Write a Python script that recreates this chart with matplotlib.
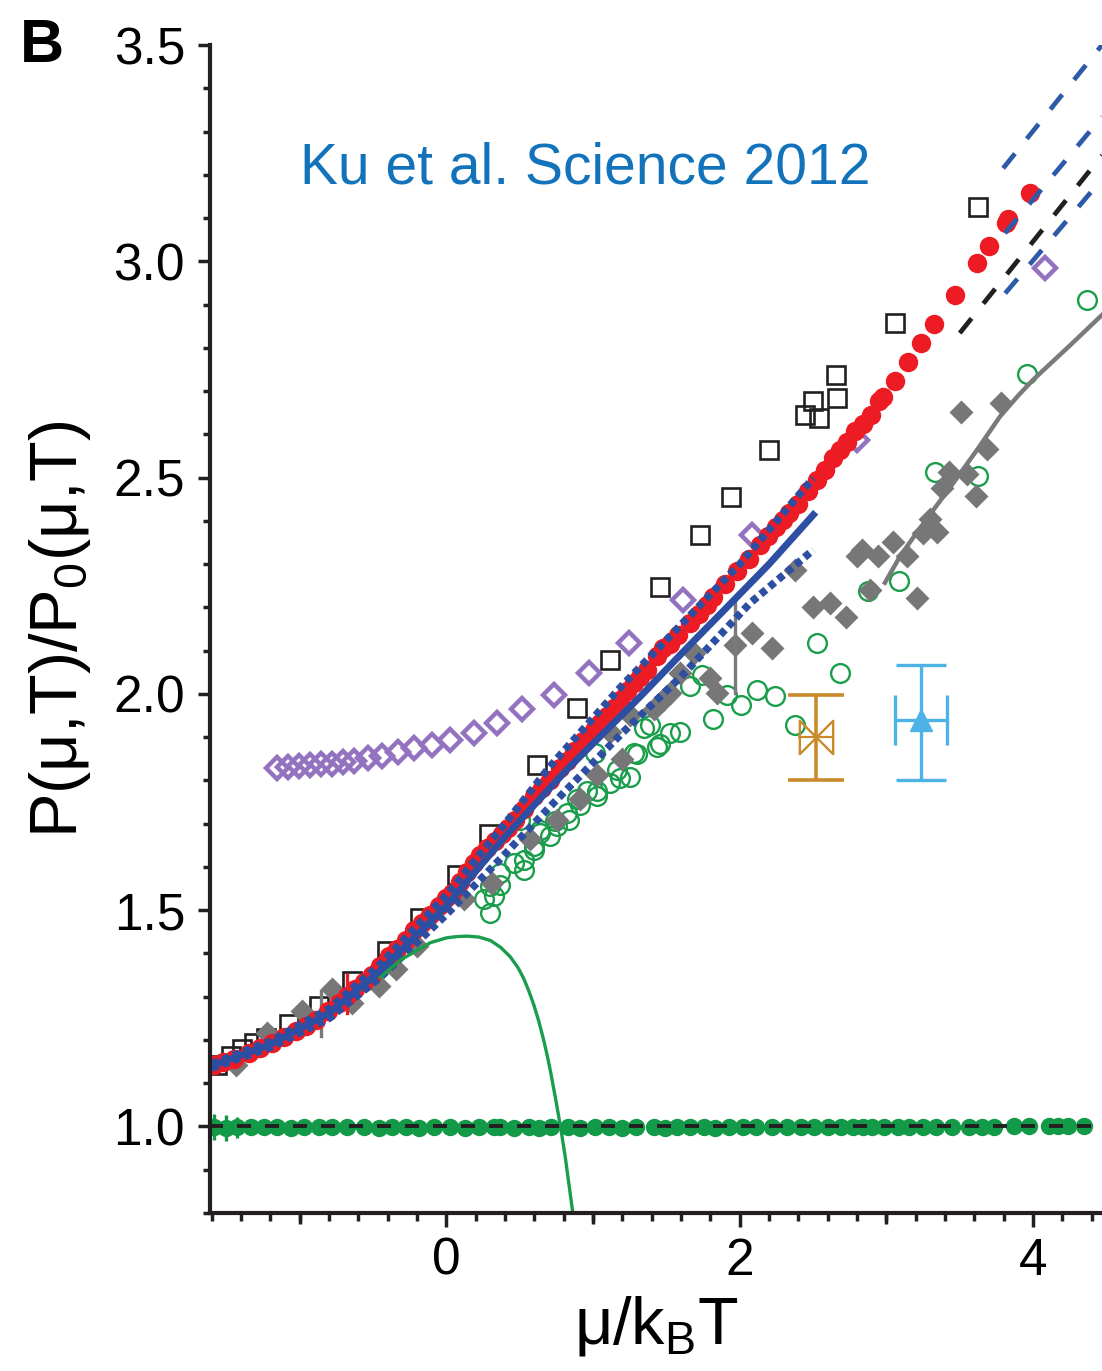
import numpy as np
import matplotlib
matplotlib.use("Agg")
import matplotlib.pyplot as plt
from matplotlib.path import Path
from matplotlib.ticker import MultipleLocator, FixedLocator

plt.rcParams['font.family'] = ['Liberation Sans', 'DejaVu Sans']
plt.rcParams['mathtext.fontset'] = 'custom'
plt.rcParams['mathtext.rm'] = 'Liberation Sans'
plt.rcParams['mathtext.it'] = 'Liberation Sans:italic'

# --- measured pressure (red filled circles) ---
red_x = [-1.587, -1.52, -1.449, -1.347, -1.27, -1.187, -1.11, -1.029, -0.96, -0.892,
         -0.81, -0.733, -0.68, -0.62, -0.56, -0.506, -0.45, -0.393, -0.34, -0.279,
         -0.222, -0.166, -0.11, -0.052, 0.0, 0.039, 0.095, 0.14, 0.186, 0.23,
         0.277, 0.33, 0.379, 0.42, 0.47, 0.53, 0.595, 0.65, 0.708, 0.777,
         0.82, 0.867, 0.93, 1.003, 1.05, 1.094, 1.14, 1.185, 1.23, 1.276,
         1.32, 1.367, 1.435, 1.48, 1.526, 1.58, 1.662, 1.72, 1.776, 1.821,
         1.901, 1.98, 2.06, 2.139, 2.19, 2.248, 2.295, 2.339, 2.40, 2.468,
         2.525, 2.582, 2.638, 2.684, 2.729, 2.786, 2.838, 2.893, 2.95, 2.974,
         3.059, 3.149, 3.238, 3.324, 3.465, 3.617, 3.70, 3.815, 3.83, 3.98]
red_y = [1.141, 1.148, 1.155, 1.170, 1.181, 1.193, 1.206, 1.220, 1.233, 1.247,
         1.266, 1.286, 1.301, 1.317, 1.334, 1.351, 1.372, 1.393, 1.411, 1.432,
         1.455, 1.471, 1.490, 1.509, 1.528, 1.540, 1.565, 1.588, 1.609, 1.627,
         1.644, 1.660, 1.675, 1.690, 1.709, 1.735, 1.763, 1.783, 1.802, 1.829,
         1.845, 1.867, 1.890, 1.917, 1.933, 1.948, 1.968, 1.987, 2.006, 2.025,
         2.040, 2.056, 2.088, 2.105, 2.116, 2.135, 2.165, 2.185, 2.205, 2.225,
         2.255, 2.283, 2.312, 2.345, 2.365, 2.385, 2.402, 2.418, 2.440, 2.468,
         2.494, 2.518, 2.545, 2.564, 2.583, 2.607, 2.624, 2.645, 2.676, 2.687,
         2.724, 2.768, 2.812, 2.856, 2.923, 2.995, 3.036, 3.089, 3.097, 3.159]

# --- open squares ---
sq_x = [-1.562, -1.471, -1.392, -1.313, -1.233, -1.074, -0.87, -0.643, -0.404, -0.177,
        0.073, 0.288, 0.618, 0.89, 1.112, 1.458, 1.73, 1.94, 2.202, 2.446,
        2.502, 2.537, 2.661, 2.657, 3.056, 3.626]
sq_y = [1.143, 1.162, 1.178, 1.193, 1.205, 1.236, 1.278, 1.336, 1.405, 1.482,
        1.582, 1.675, 1.836, 1.967, 2.079, 2.248, 2.368, 2.456, 2.564, 2.645,
        2.676, 2.637, 2.684, 2.738, 2.857, 3.126]

# --- open purple diamonds ---
pd_x = [-1.158, -1.083, -1.008, -0.933, -0.858, -0.783, -0.708, -0.627, -0.538, -0.436,
        -0.327, -0.218, -0.095, 0.027, 0.186, 0.345, 0.516, 0.731, 0.97, 1.242,
        1.614, 2.084, 2.80, 4.08]
pd_y = [1.829, 1.831, 1.833, 1.835, 1.837, 1.839, 1.842, 1.846, 1.851, 1.856,
        1.865, 1.874, 1.883, 1.894, 1.910, 1.933, 1.964, 1.998, 2.048, 2.118,
        2.217, 2.368, 2.587, 2.985]

# --- grey filled diamonds ---
gd_x = [-1.437, -1.221, -0.983, -0.779, -0.643, -0.461, -0.347, -0.2, 0.118, 0.311,
        0.572, 0.754, 0.913, 1.027, 1.117, 1.196, 1.253, 1.412, 1.48, 1.526,
        1.594, 1.685, 1.794, 1.844, 1.969, 2.083, 2.219, 2.377, 2.502, 2.616,
        2.725, 2.798, 2.834, 2.888, 2.945, 3.047, 3.138, 3.206, 3.251, 3.297,
        3.342, 3.377, 3.429, 3.508, 3.551, 3.61, 3.683, 3.779]
gd_y = [1.143, 1.216, 1.266, 1.317, 1.286, 1.324, 1.363, 1.417, 1.525, 1.563,
        1.665, 1.709, 1.756, 1.812, 1.913, 1.850, 1.952, 1.964, 1.985, 2.002,
        2.048, 2.094, 2.037, 2.002, 2.114, 2.141, 2.106, 2.287, 2.202, 2.210,
        2.177, 2.318, 2.333, 2.240, 2.318, 2.351, 2.318, 2.222, 2.372, 2.405,
        2.375, 2.476, 2.512, 2.651, 2.508, 2.457, 2.567, 2.672]

# --- open green circles ---
gc_x = [0.30, 0.254, 0.322, 0.30, 0.368, 0.368, 0.458, 0.527, 0.527, 0.595,
        0.595, 0.64, 0.504, 0.64, 0.708, 0.742, 0.754, 0.822, 0.833, 0.89,
        0.913, 0.958, 1.027, 1.027, 1.015, 1.117, 1.163, 1.185, 1.253, 1.276,
        1.299, 1.344, 1.39, 1.435, 1.458, 1.526, 1.594, 1.662, 1.741, 1.82,
        1.91, 2.008, 2.12, 2.241, 2.377, 2.525, 2.684, 2.877, 3.088, 3.331,
        3.625, 3.956, 4.367]
gc_y = [1.494, 1.525, 1.532, 1.555, 1.559, 1.586, 1.609, 1.594, 1.617, 1.640,
        1.648, 1.679, 1.709, 1.686, 1.671, 1.706, 1.694, 1.725, 1.709, 1.756,
        1.744, 1.775, 1.763, 1.775, 1.863, 1.794, 1.825, 1.806, 1.809, 1.863,
        1.860, 1.921, 1.929, 1.877, 1.885, 1.910, 1.913, 2.019, 2.044, 1.942,
        1.998, 1.975, 2.010, 1.994, 1.929, 2.118, 2.048, 2.237, 2.260, 2.514,
        2.504, 2.740, 2.911]

# --- green filled circles near 1 ---
g1_x = [-1.585, -1.505, -1.426, -1.335, -1.245, -1.154, -1.063, -0.972, -0.87, -0.779,
        -0.677, -0.564, -0.462, -0.371, -0.279, -0.188, -0.086, 0.027, 0.129, 0.220,
        0.322, 0.368, 0.46, 0.565, 0.632, 0.711, 0.83, 0.909, 1.015, 1.108,
        1.2, 1.293, 1.412, 1.491, 1.57, 1.662, 1.755, 1.834, 1.927, 2.019,
        2.112, 2.217, 2.323, 2.416, 2.508, 2.601, 2.693, 2.77, 2.84, 2.905,
        2.984, 3.076, 3.155, 3.248, 3.341, 3.446, 3.565, 3.65, 3.737, 3.869,
        3.975, 4.107, 4.173, 4.239, 4.345]
g1_y = [0.998, 0.997, 0.998, 0.998, 0.998, 0.998, 0.997, 0.998, 0.998, 0.998,
        0.998, 0.998, 0.997, 0.998, 0.998, 0.997, 0.998, 0.998, 0.997, 0.998,
        0.998, 0.999, 0.997, 0.998, 0.997, 0.998, 0.998, 0.997, 0.998, 0.998,
        0.997, 0.998, 0.998, 0.997, 0.998, 0.998, 0.998, 0.997, 0.998, 0.998,
        0.998, 0.998, 0.998, 0.998, 0.998, 0.998, 0.998, 0.998, 0.998, 0.999,
        0.998, 0.998, 0.998, 0.998, 0.998, 0.999, 0.999, 0.999, 0.999, 1.000,
        1.000, 1.001, 1.001, 1.001, 1.001]
g1_err = [0.03, 0.03, 0.025]

# --- green solid curve ---
gl_x = [-0.45, -0.313, -0.2, -0.109, 0.0, 0.07, 0.141, 0.22, 0.30, 0.37, 0.436, 0.49,
        0.527, 0.56, 0.595, 0.63, 0.663, 0.69, 0.711, 0.745, 0.78, 0.81, 0.838, 0.862]
gl_y = [1.345, 1.385, 1.407, 1.425, 1.436, 1.439, 1.440, 1.438, 1.430, 1.414, 1.392, 1.366,
        1.342, 1.315, 1.282, 1.243, 1.200, 1.160, 1.125, 1.063, 0.995, 0.93, 0.86, 0.80]

# --- theory band (blue) ---
bl_x = [-1.6, -1.2, -0.8, -0.45, 0.0, 0.4, 0.822, 1.322, 1.651, 1.912, 2.2, 2.502]
bl_y = [1.14, 1.19, 1.262, 1.36, 1.51, 1.67, 1.825, 1.994, 2.11, 2.20, 2.30, 2.414]
bu_x = [-1.6, -1.2, -0.8, -0.45, 0.0, 0.4, 0.708, 1.2, 1.6, 2.0, 2.502]
bu_y = [1.145, 1.197, 1.272, 1.375, 1.535, 1.70, 1.833, 2.02, 2.16, 2.30, 2.499]
bd_x = [-1.6, -1.2, -0.8, -0.45, 0.0, 0.4, 0.708, 1.2, 1.6, 2.071, 2.502]
bd_y = [1.135, 1.183, 1.25, 1.345, 1.49, 1.63, 1.74, 1.91, 2.04, 2.21, 2.333]

# --- high-fugacity asymptotes ---
asym_black_x = [3.50, 4.47]
asym_black_y = [2.834, 3.245]
asym_blue_x = [[3.796, 4.47], [3.808, 4.47], [3.81, 4.47]]
asym_blue_y = [[3.215, 3.50], [3.065, 3.334], [2.926, 3.19]]

# --- grey line ---
gy_x = [2.99, 3.093, 3.18, 3.32, 3.455, 3.62, 3.774, 3.9, 4.0, 4.25, 4.47]
gy_y = [2.257, 2.318, 2.36, 2.425, 2.487, 2.565, 2.641, 2.69, 2.726, 2.805, 2.876]

# --- single points with error bars ---
orange_x, orange_y, orange_yerr, orange_xerr = 2.52, 1.90, 0.098, 0.12
tri_x, tri_y, tri_yerr_lo, tri_yerr_hi, tri_xerr = 3.236, 1.94, 0.138, 0.127, 0.18

fig = plt.figure(figsize=(11.02, 13.71), dpi=100)
ax = fig.add_axes([210 / 1102, 1 - 1213 / 1371, 892 / 1102, 1168 / 1371])

ax.plot(sq_x, sq_y, 's', ms=13.5, mfc='none', mec='#231f20', mew=1.9, zorder=2)
ax.plot(gc_x, gc_y, 'o', ms=13.5, mfc='none', mec='#1a9e4b', mew=1.7, zorder=2)
ax.plot(gy_x, gy_y, '-', color='#7a7a7a', lw=3.2, zorder=2)
ax.plot(gd_x, gd_y, 'D', ms=12.5, color='#777777', mec='none', zorder=3)
ax.plot([-0.858, -0.858], [1.209, 1.313], color='#7a7a7a', lw=2.4, zorder=3)
ax.plot([1.969, 1.969], [2.003, 2.22], color='#7a7a7a', lw=2.4, zorder=3)
ax.plot(pd_x, pd_y, 'D', ms=11.5, mfc='none', mec='#9373bf', mew=3.2, zorder=3)
ax.plot(red_x, red_y, 'o', ms=14, color='#ed1c24', mec='none', zorder=4)
ax.plot([-0.676, -0.676], [1.263, 1.351], color='#ed1c24', lw=2.4, zorder=4)

ax.plot(bl_x, bl_y, '-', color='#2d4fa3', lw=5, zorder=5)
ax.plot(bu_x, bu_y, color='#2d4fa3', lw=5.5, dashes=(0.9, 0.6), zorder=5)
ax.plot(bd_x, bd_y, color='#2d4fa3', lw=5.5, dashes=(0.9, 0.6), zorder=5)

ax.plot(gl_x, gl_y, '-', color='#1a9e4b', lw=2.4, zorder=5)

ax.plot(asym_black_x, asym_black_y, color='#231f20', lw=3.4, dashes=(4, 4), zorder=5)
for xs, ys in zip(asym_blue_x, asym_blue_y):
    ax.plot(xs, ys, color='#2d5aa8', lw=3.4, dashes=(4, 4), zorder=5)

ax.plot(g1_x, g1_y, 'o', ms=12.5, color='#139a48', mec='none', zorder=5)
ax.errorbar(g1_x[:3], g1_y[:3], yerr=g1_err, fmt='none', ecolor='#139a48', elinewidth=2.4, zorder=5)
ax.plot([-1.62, 4.42], [1.0, 1.0], color='#231f20', lw=2.8, dashes=(3.6, 3.6), zorder=6)

# bow-tie marker for the orange point
bowtie = Path([(-1, 1), (0, 0), (-1, -1), (-1, 1), (1, 1), (0, 0), (1, -1), (1, 1)],
              [Path.MOVETO, Path.LINETO, Path.LINETO, Path.CLOSEPOLY,
               Path.MOVETO, Path.LINETO, Path.LINETO, Path.CLOSEPOLY])
ax.errorbar(orange_x, orange_y, yerr=orange_yerr, fmt='none', ecolor='#c98a2b',
            elinewidth=2.6, capsize=20, capthick=2.6, zorder=6)
ax.errorbar(orange_x, orange_y, xerr=orange_xerr, fmt='none', ecolor='#c98a2b',
            elinewidth=1.6, zorder=6)
ax.plot(orange_x, orange_y, marker=bowtie, ms=24, mfc='none', mec='#c98a2b', mew=1.7, zorder=6)

ax.errorbar(tri_x, tri_y, yerr=[[tri_yerr_lo], [tri_yerr_hi]], xerr=tri_xerr, fmt='^',
            ms=16, color='#4db3e6', ecolor='#4db3e6', elinewidth=2.4, capsize=18,
            capthick=2.4, zorder=6)

ax.set_xlim(-1.612, 4.47)
ax.set_ylim(0.8, 3.5)

for side in ['top', 'right']:
    ax.spines[side].set_visible(False)
for side in ['left', 'bottom']:
    ax.spines[side].set_linewidth(3.0)
    ax.spines[side].set_color('#231f20')
    ax.spines[side].set_zorder(7)

ax.xaxis.set_major_locator(FixedLocator([0, 2, 4]))
ax.xaxis.set_minor_locator(MultipleLocator(0.2))
ax.yaxis.set_major_locator(MultipleLocator(0.5))
ax.yaxis.set_minor_locator(MultipleLocator(0.1))
ax.yaxis.set_major_formatter(plt.FuncFormatter(lambda v, p: f"{v:.1f}"))
ax.tick_params(axis='both', which='both', direction='out', color='#231f20', width=2.5)
ax.tick_params(axis='x', which='major', length=10, pad=7, labelsize=37)
ax.tick_params(axis='x', which='minor', length=6)
ax.tick_params(axis='y', which='major', length=9, pad=9, labelsize=37)
ax.tick_params(axis='y', which='minor', length=5)

# odd integers get a medium tick
odd = ax.secondary_xaxis('bottom')
odd.set_xticks([-1, 1, 3])
odd.set_xticklabels([])
odd.tick_params(length=8, width=2.5, color='#231f20')
odd.spines['bottom'].set_visible(False)

ax.set_ylabel('P(μ,T)/P$_\\mathrm{0}$(μ,T)', fontsize=48)
ax.yaxis.set_label_coords(-0.131, 0.5)
ax.set_xlabel('μ/k$_\\mathrm{B}$T', fontsize=48)
ax.xaxis.set_label_coords(0.5, -0.069)

fig.text(300 / 1102, 1 - 183 / 1371, 'Ku et al. Science 2012', color='#1273bb',
         fontsize=41, va='baseline')
fig.text(20 / 1102, 1 - 62 / 1371, 'B', fontsize=44, fontweight='bold', va='baseline')

fig.savefig('out.png', dpi=100)
